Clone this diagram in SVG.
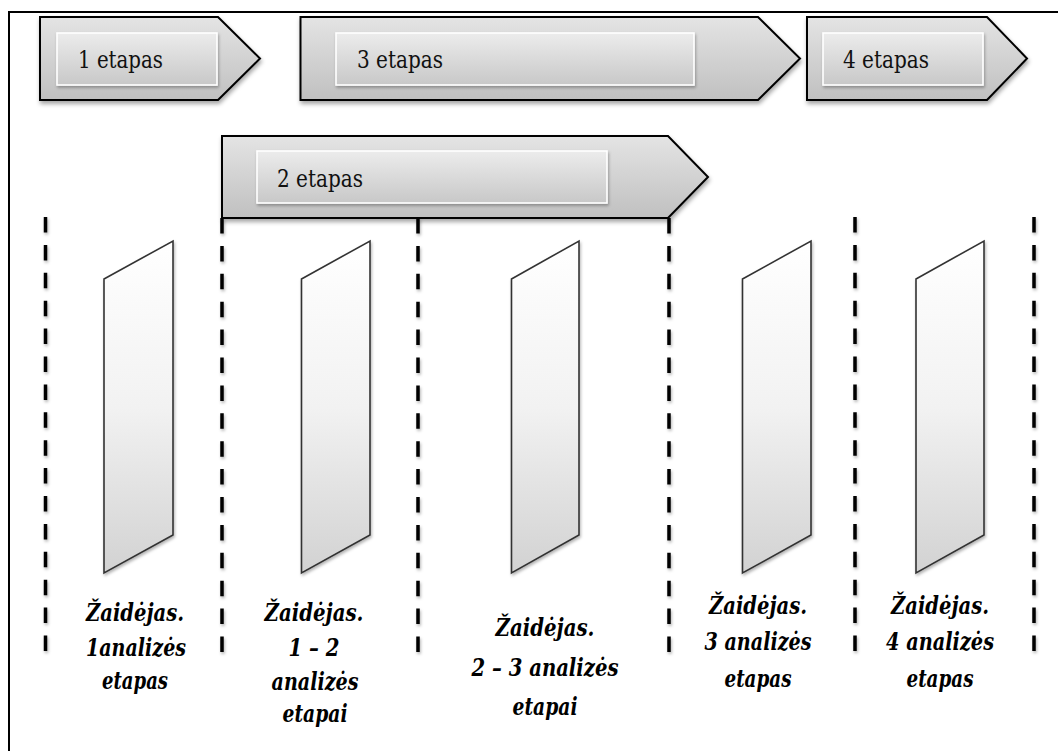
<svg xmlns="http://www.w3.org/2000/svg" width="1058" height="751" viewBox="0 0 1058 751">
<defs>
<style>
.arrow{fill:url(#gArrow);stroke:#000;stroke-width:2;filter:url(#sh)}
.inner{fill:url(#gInner);stroke:#fff;stroke-width:1.6;filter:url(#sh2)}
.lbl{font-family:'DejaVu Serif','Liberation Serif',serif;font-size:24px;fill:#111}
.panel{fill:url(#gPanel);stroke:#333;stroke-width:1.6;filter:url(#sh2)}
.cap{font-family:'DejaVu Serif','Liberation Serif',serif;font-size:25px;font-weight:bold;font-style:italic;fill:#000;text-anchor:middle}
.dash{stroke:#000;stroke-width:3.5;stroke-dasharray:15.5 12.4;fill:none}
</style>
<linearGradient id="gArrow" x1="0" y1="0" x2="0" y2="1">
<stop offset="0" stop-color="#e4e4e4"/><stop offset="1" stop-color="#c0c0c0"/>
</linearGradient>
<linearGradient id="gInner" x1="0" y1="0" x2="0" y2="1">
<stop offset="0" stop-color="#ececec"/><stop offset="1" stop-color="#c8c8c8"/>
</linearGradient>
<linearGradient id="gPanel" x1="0" y1="0" x2="0" y2="1">
<stop offset="0" stop-color="#ffffff"/><stop offset="0.5" stop-color="#f2f2f2"/><stop offset="1" stop-color="#d2d2d2"/>
</linearGradient>
<filter id="sh" x="-5%" y="-10%" width="115%" height="130%">
<feDropShadow dx="1" dy="3" stdDeviation="2" flood-color="#000" flood-opacity="0.35"/>
</filter>
<filter id="sh2" x="-10%" y="-10%" width="130%" height="130%">
<feDropShadow dx="1" dy="2" stdDeviation="1.5" flood-color="#000" flood-opacity="0.3"/>
</filter>
</defs>
<rect x="0" y="0" width="1058" height="751" fill="#fff"/>
<rect id="frame" x="9" y="12" width="1070" height="760" fill="none" stroke="#000" stroke-width="2"/>

<g id="connectors" filter="url(#sh2)">
<line class="dash" x1="45.5" y1="217" x2="45.5" y2="652"/>
<line class="dash" x1="222" y1="218" x2="222" y2="652"/>
<line class="dash" x1="418" y1="218" x2="418" y2="652"/>
<line class="dash" x1="669" y1="218" x2="669" y2="652"/>
<line class="dash" x1="855" y1="217" x2="855" y2="652"/>
<line class="dash" x1="1034" y1="217" x2="1034" y2="652"/>
</g>

<g id="stage1">
<path class="arrow" d="M40,17 H218 L260,58.5 L218,100 H40 Z"/>
<rect class="inner" x="57" y="33" width="160" height="52"/>
<text class="lbl" x="78" y="68" textLength="85" lengthAdjust="spacingAndGlyphs">1 etapas</text>
</g>
<g id="stage3">
<path class="arrow" d="M300.5,17 H758 L800,58.5 L758,100 H300.5 Z"/>
<rect class="inner" x="336" y="33" width="358" height="52"/>
<text class="lbl" x="357" y="68" textLength="86" lengthAdjust="spacingAndGlyphs">3 etapas</text>
</g>
<g id="stage4">
<path class="arrow" d="M807,17 H987 L1027,58.5 L987,100 H807 Z"/>
<rect class="inner" x="823" y="33" width="160" height="52"/>
<text class="lbl" x="843" y="68" textLength="86" lengthAdjust="spacingAndGlyphs">4 etapas</text>
</g>
<g id="stage2">
<path class="arrow" d="M222,136 H668 L708,177 L668,218 H222 Z"/>
<rect class="inner" x="257" y="151" width="350" height="52"/>
<text class="lbl" x="277" y="187" textLength="86" lengthAdjust="spacingAndGlyphs">2 etapas</text>
</g>

<g id="player1">
<path class="panel" d="M104,279 L173,241 L173,535 L104,573 Z"/>
<text class="cap" x="135" y="621" textLength="98" lengthAdjust="spacingAndGlyphs">Žaidėjas.</text>
<text class="cap" x="136" y="656" textLength="100" lengthAdjust="spacingAndGlyphs">1analizės</text>
<text class="cap" x="135" y="689" textLength="66" lengthAdjust="spacingAndGlyphs">etapas</text>
</g>
<g id="player2">
<path class="panel" d="M301.5,279 L370,241 L370,535 L301.5,573 Z"/>
<text class="cap" x="314" y="621" textLength="99" lengthAdjust="spacingAndGlyphs">Žaidėjas.</text>
<text class="cap" x="314" y="656" textLength="51" lengthAdjust="spacingAndGlyphs">1 – 2</text>
<text class="cap" x="315" y="690" textLength="87" lengthAdjust="spacingAndGlyphs">analizės</text>
<text class="cap" x="315" y="722" textLength="65" lengthAdjust="spacingAndGlyphs">etapai</text>
</g>
<g id="player3">
<path class="panel" d="M511.5,279 L579,241 L579,535 L511.5,573 Z"/>
<text class="cap" x="545" y="636" textLength="99" lengthAdjust="spacingAndGlyphs">Žaidėjas.</text>
<text class="cap" x="545" y="676" textLength="147" lengthAdjust="spacingAndGlyphs">2 – 3 analizės</text>
<text class="cap" x="545" y="715" textLength="65" lengthAdjust="spacingAndGlyphs">etapai</text>
</g>
<g id="player4">
<path class="panel" d="M742.5,279 L811,241 L811,535 L742.5,573 Z"/>
<text class="cap" x="758" y="614" textLength="98" lengthAdjust="spacingAndGlyphs">Žaidėjas.</text>
<text class="cap" x="758" y="650" textLength="107" lengthAdjust="spacingAndGlyphs">3 analizės</text>
<text class="cap" x="758" y="687" textLength="67" lengthAdjust="spacingAndGlyphs">etapas</text>
</g>
<g id="player5">
<path class="panel" d="M916,279 L984,241 L984,535 L916,573 Z"/>
<text class="cap" x="940" y="614" textLength="98" lengthAdjust="spacingAndGlyphs">Žaidėjas.</text>
<text class="cap" x="940" y="650" textLength="108" lengthAdjust="spacingAndGlyphs">4 analizės</text>
<text class="cap" x="940" y="687" textLength="67" lengthAdjust="spacingAndGlyphs">etapas</text>
</g>
</svg>
